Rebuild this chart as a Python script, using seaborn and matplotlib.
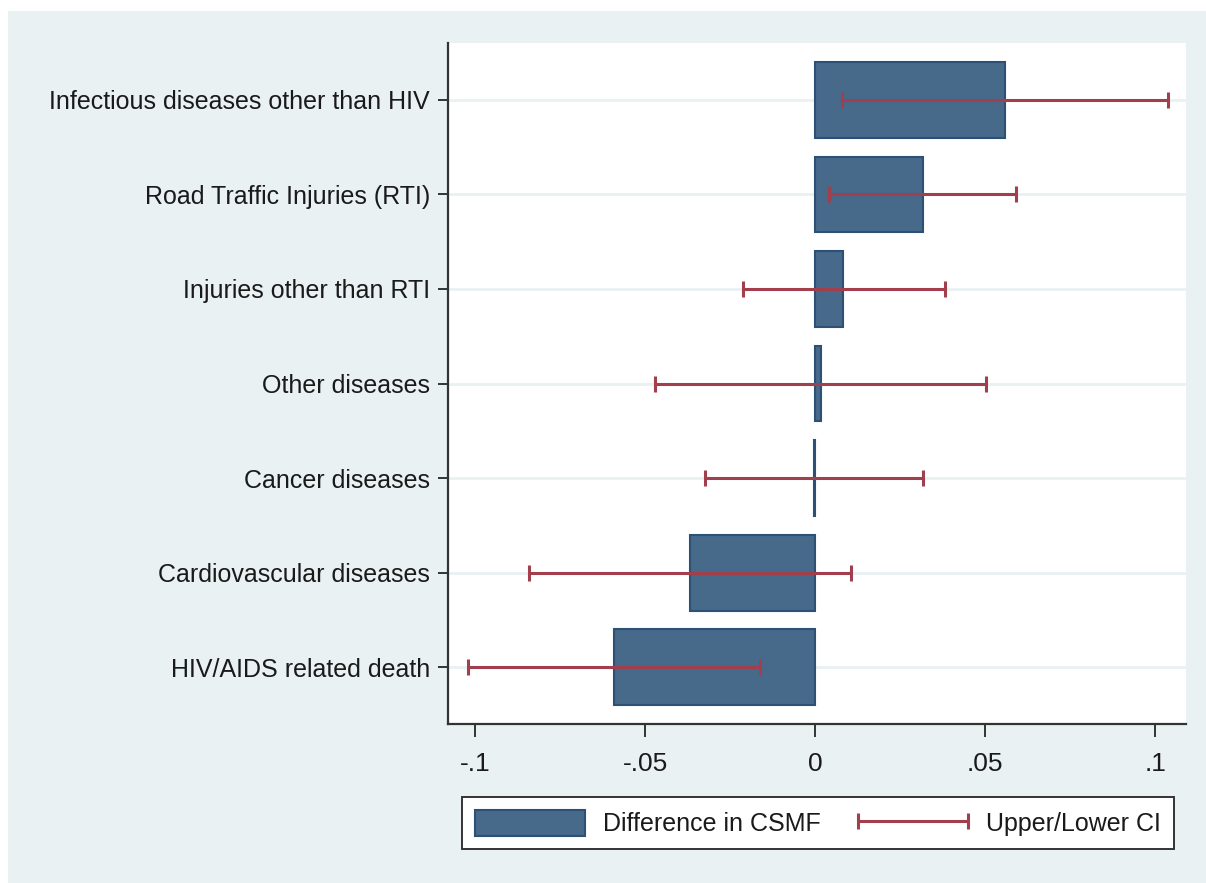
"""
CSMF difference by cause of death, bar + CI chart in a Stata-like style
"""
import numpy as np
import pandas as pd
import matplotlib
matplotlib.use("Agg")
import matplotlib.pyplot as plt
import seaborn as sns
from matplotlib.patches import Rectangle
from matplotlib.container import ErrorbarContainer
from matplotlib.legend_handler import HandlerErrorbar

# data
causes = [
    "Infectious diseases other than HIV",
    "Road Traffic Injuries (RTI)",
    "Injuries other than RTI",
    "Other diseases",
    "Cancer diseases",
    "Cardiovascular diseases",
    "HIV/AIDS related death",
]
diff_csmf = [0.0558, 0.0316, 0.0081, 0.0016, -0.0003, -0.0368, -0.0591]
ci_lower = [0.0078, 0.0041, -0.0212, -0.0470, -0.0324, -0.0841, -0.1020]
ci_upper = [0.1036, 0.0590, 0.0380, 0.0503, 0.0317, 0.0105, -0.0162]
xticks = [-0.1, -0.05, 0, 0.05, 0.1]
xtick_labels = ["-.1", "-.05", "0", ".05", ".1"]

BAR = "#476a8b"
BAR_EDGE = "#2d5175"
CI = "#a1404c"
BG = "#e9f1f3"
GRID = "#e9f1f3"
INK = "#1a1a1a"
FS = 18

df = pd.DataFrame({"cause": causes, "diff": diff_csmf,
                   "lo": ci_lower, "hi": ci_upper})

sns.set_style("white")
plt.rcParams["font.family"] = ["Liberation Sans", "DejaVu Sans"]

fig = plt.figure(figsize=(12.06, 8.83), dpi=100, facecolor="white")
# light bluish graph region with a thin white margin on the left and top
fig.patches.append(Rectangle((8 / 1206, 0), 1, 1 - 11 / 883,
                             transform=fig.transFigure, facecolor=BG,
                             edgecolor="none", zorder=-10))
ax = fig.add_axes([448 / 1206, 1 - 724 / 883, 738 / 1206, 681 / 883])
ax.set_facecolor("white")

pos = np.arange(len(causes))
for p in pos:
    ax.axhline(p, color=GRID, lw=2, zorder=0)

sns.barplot(data=df, x="diff", y="cause", orient="h", color=BAR,
            saturation=1, width=0.8, edgecolor=BAR_EDGE, linewidth=1.5,
            label="Difference in CSMF", ax=ax, zorder=2)
if ax.get_legend() is not None:
    ax.get_legend().remove()

mid = (df["lo"] + df["hi"]) / 2
half = (df["hi"] - df["lo"]) / 2
ax.errorbar(mid, pos, xerr=half, fmt="none", ecolor=CI, elinewidth=2.2,
            capsize=6, capthick=2.2, label="Upper/Lower CI", zorder=3)

ax.set_xlim(-0.108, 0.109)
ax.set_ylim(6.6, -0.6)
ax.set_xticks(xticks)
ax.set_xticklabels(xtick_labels)
ax.set_xlabel("")
ax.set_ylabel("")

for s in ["top", "right"]:
    ax.spines[s].set_visible(False)
for s in ["left", "bottom"]:
    ax.spines[s].set_color("#333333")
    ax.spines[s].set_linewidth(1.6)

ax.tick_params(axis="y", length=7, width=1.4, color="#333333", pad=6,
               labelsize=FS, labelcolor=INK, left=True)
ax.tick_params(axis="x", length=9, width=1.4, color="#333333", pad=11,
               labelsize=19, labelcolor=INK, bottom=True)

handles, labels = ax.get_legend_handles_labels()
hl = 4.4
leg = fig.legend(handles, labels, loc="center", ncol=2,
                 bbox_to_anchor=(818 / 1206, 1 - 823 / 883),
                 fontsize=FS, frameon=True, fancybox=False, framealpha=1,
                 facecolor="white", edgecolor="#333333",
                 handlelength=hl, handleheight=1.2, handletextpad=0.72,
                 columnspacing=1.5, borderpad=0.52,
                 handler_map={ErrorbarContainer:
                              HandlerErrorbar(xerr_size=hl / 2, numpoints=1)})
leg.get_frame().set_linewidth(1.4)
for t in leg.get_texts():
    t.set_color(INK)

fig.savefig("out.png", dpi=100, facecolor=fig.get_facecolor())
